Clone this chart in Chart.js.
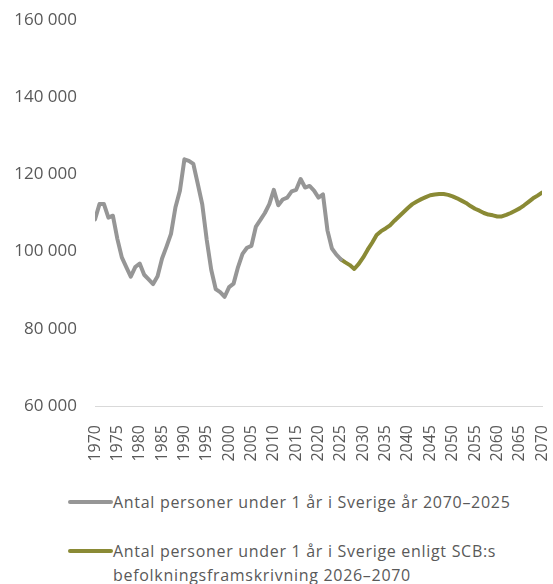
<!DOCTYPE html>
<html>
<head>
<meta charset="utf-8">
<script src="https://cdn.jsdelivr.net/npm/chart.js@4"></script>
<style>
    body { margin: 0; background: #fff; font-family: "Open Sans", "Liberation Sans", sans-serif; }
    #wrap { position: relative; width: 553px; height: 584px; }
    #box { position: absolute; left: 0; top: 0; width: 553px; height: 470px; }
    .legend-item { position: absolute; left: 68px; color: #595959; font-size: 16px; line-height: 24px; letter-spacing: 0.7px; }
    .legend-item .marker { position: absolute; left: 0; top: 10px; width: 45px; height: 4px; border-radius: 2px; }
    .legend-item span.txt { display: block; margin-left: 45px; white-space: nowrap; }
</style>
</head>
<body>
<div id="wrap">
    <div id="box"><canvas id="grafico"></canvas></div>
    <div class="legend-item" style="top: 490px;">
        <div class="marker" style="background: #969696"></div>
        <span class="txt">Antal personer under 1 år i Sverige år 2070–2025</span>
    </div>
    <div class="legend-item" style="top: 539px;">
        <div class="marker" style="background: #8a8a35"></div>
        <span class="txt">Antal personer under 1 år i Sverige enligt SCB:s<br>befolkningsframskrivning 2026–2070</span>
    </div>
</div>
<script>
// Historiska värden 1970-2025
const anosHistorico = [
    1970, 1971, 1972, 1973, 1974, 1975, 1976, 1977, 1978, 1979,
    1980, 1981, 1982, 1983, 1984, 1985, 1986, 1987, 1988, 1989,
    1990, 1991, 1992, 1993, 1994, 1995, 1996, 1997, 1998, 1999,
    2000, 2001, 2002, 2003, 2004, 2005, 2006, 2007, 2008, 2009,
    2010, 2011, 2012, 2013, 2014, 2015, 2016, 2017, 2018, 2019,
    2020, 2021, 2022, 2023, 2024, 2025
];
const valoresHistorico = [
    108300, 112300, 112300, 108800, 109300, 103300, 98500, 96000, 93500, 96000,
    96900, 94000, 92800, 91600, 93600, 98200, 101300, 104600, 111500, 115800,
    123900, 123500, 122700, 117500, 112200, 103000, 95300, 90300, 89500, 88300,
    90800, 91700, 96000, 99400, 101000, 101500, 106500, 108200, 110000, 112300,
    116000, 112000, 113500, 114000, 115600, 116000, 118800, 116600, 117000, 115800,
    114000, 114800, 105500, 100800, 99200, 98000
];

// Framskrivning 2025-2070 (2025 med för att linjerna ska hänga ihop)
const anosProjecao = [
    2025, 2026, 2027, 2028, 2029, 2030, 2031, 2032, 2033, 2034,
    2035, 2036, 2037, 2038, 2039, 2040, 2041, 2042, 2043, 2044,
    2045, 2046, 2047, 2048, 2049, 2050, 2051, 2052, 2053, 2054,
    2055, 2056, 2057, 2058, 2059, 2060, 2061, 2062, 2063, 2064,
    2065, 2066, 2067, 2068, 2069, 2070
];
const valoresProjecao = [
    98000, 97200, 96500, 95500, 96800, 98500, 100500, 102300, 104300, 105300,
    106000, 106800, 108000, 109100, 110200, 111300, 112300, 113000, 113600, 114100,
    114600, 114800, 114900, 114900, 114700, 114300, 113800, 113200, 112600, 111800,
    111100, 110600, 110000, 109600, 109400, 109100, 109100, 109500, 110000, 110600,
    111200, 112000, 112900, 113800, 114500, 115300
];

const ticksY = [60000, 80000, 100000, 120000, 140000, 160000];

function formatarNumero(v) {
    return String(v).replace(/\B(?=(\d{3})+(?!\d))/g, ' ');
}

const pontosHistorico = anosHistorico.map((ano, i) => ({ x: ano, y: valoresHistorico[i] }));
const pontosProjecao = anosProjecao.map((ano, i) => ({ x: ano, y: valoresProjecao[i] }));

const config = {
    type: 'line',
    data: {
        datasets: [{
            label: 'Antal personer under 1 år i Sverige år 2070–2025',
            data: pontosHistorico,
            borderColor: '#969696',
            borderWidth: 4,
            pointRadius: 0,
            tension: 0,
            borderCapStyle: 'round',
            borderJoinStyle: 'round'
        },
        {
            label: 'Antal personer under 1 år i Sverige enligt SCB:s befolkningsframskrivning 2026–2070',
            data: pontosProjecao,
            borderColor: '#8a8a35',
            borderWidth: 4,
            pointRadius: 0,
            tension: 0,
            borderCapStyle: 'round',
            borderJoinStyle: 'round'
        }]
    },
    options: {
        responsive: true,
        maintainAspectRatio: false,
        animation: false,
        layout: {
            padding: { top: 20, right: 11, left: 0, bottom: 0 }
        },
        plugins: {
            legend: { display: false },
            tooltip: { enabled: false }
        },
        scales: {
            x: {
                type: 'linear',
                min: 1970,
                max: 2070,
                grid: { display: false },
                border: { display: true, color: '#d9d9d9', width: 1 },
                ticks: {
                    stepSize: 5,
                    minRotation: 90,
                    maxRotation: 90,
                    padding: 11,
                    color: '#595959',
                    font: { family: 'Open Sans', size: 16 },
                    callback: function (v) { return String(v); }
                },
                afterFit: function (scale) {
                    scale.height = 64;
                    scale.paddingLeft = 0;
                    scale.paddingRight = 0;
                }
            },
            y: {
                min: 60000,
                max: 160000,
                grid: { display: false, drawTicks: false },
                border: { display: false },
                afterBuildTicks: function (scale) {
                    scale.ticks = ticksY.map(v => ({ value: v }));
                },
                ticks: {
                    padding: 18,
                    color: '#595959',
                    font: { family: 'Open Sans', size: 17 },
                    callback: function (v) { return formatarNumero(v); }
                },
                afterFit: function (scale) {
                    scale.width = 95;
                    scale.paddingTop = 0;
                    scale.paddingBottom = 0;
                }
            }
        }
    }
};

let meuGrafico = new Chart(document.getElementById('grafico'), config);
</script>
</body>
</html>
